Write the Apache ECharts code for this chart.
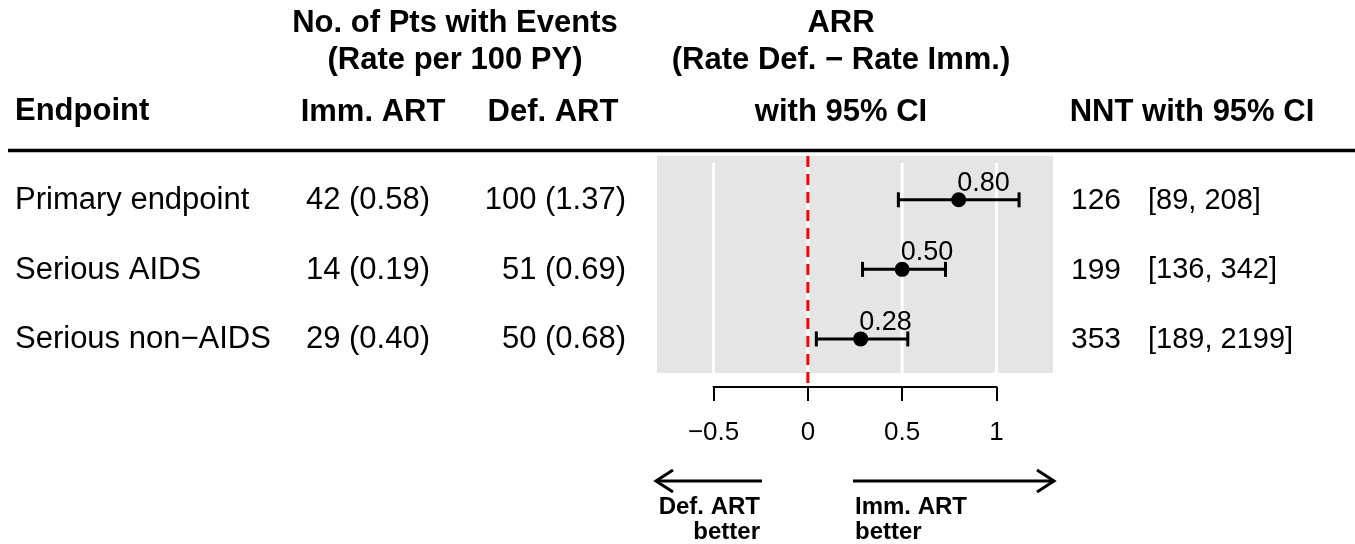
<!DOCTYPE html>
<html><head><meta charset="utf-8">
<script src="https://cdn.jsdelivr.net/npm/echarts@6/dist/echarts.min.js"></script>
<style>html,body{margin:0;padding:0;background:#fff}#c{width:1355px;height:544px}</style>
</head><body><div id="c"></div>
<script>
// ---- data ----
const endpoints = ['Primary endpoint', 'Serious AIDS', 'Serious non\u2212AIDS'];
const rows = [1, 2, 3];
const immEvents = [42, 14, 29];
const immRates = [0.58, 0.19, 0.40];
const defEvents = [100, 51, 50];
const defRates = [1.37, 0.69, 0.68];
const arr = [0.80, 0.50, 0.28];
const arrLow = [0.48, 0.29, 0.045];
const arrHigh = [1.12, 0.73, 0.53];
const nnt = [126, 199, 353];
const nntLow = [89, 136, 189];
const nntHigh = [208, 342, 2199];
const axisTicks = [-0.5, 0, 0.5, 1];

const FONT = '"Liberation Sans", Arial, Helvetica, sans-serif';
const FS = 31;
const chart = echarts.init(document.getElementById('c'), null, {renderer: 'canvas'});

const tableData = rows.map((r, i) => [0, r, i]);

function txt(x, y, text, align, opts) {
  return {
    type: 'text', x: x, y: y,
    style: Object.assign({
      text: text, fontFamily: FONT, fontSize: FS, fill: '#000',
      align: align, verticalAlign: 'middle'
    }, opts || {})
  };
}

const option = {
  animation: false,
  backgroundColor: '#fff',
  grid: [
    {left: 657, top: 156, width: 396, height: 217, show: true, backgroundColor: '#e5e5e5', borderWidth: 0},
    {left: 713.57, top: 386, width: 282.86, height: 1, show: false}
  ],
  xAxis: [
    {gridIndex: 0, type: 'value', min: -0.8, max: 1.3, show: false},
    {gridIndex: 1, type: 'value', min: -0.5, max: 1, interval: 0.5,
      axisLine: {show: true, lineStyle: {color: '#000', width: 2}},
      axisTick: {show: true, length: 14, lineStyle: {color: '#000', width: 2}},
      splitLine: {show: false},
      axisLabel: {margin: 33, fontSize: 26, fontFamily: FONT, color: '#000',
        formatter: v => String(v).replace('-', '\u2212')}
    }
  ],
  yAxis: [
    {gridIndex: 0, type: 'value', min: 0.37, max: 3.49, inverse: true, show: false},
    {gridIndex: 1, type: 'value', min: 0, max: 1, show: false}
  ],
  series: [
    { // white grid lines
      type: 'custom', xAxisIndex: 0, yAxisIndex: 0, clip: false, silent: true, z: 1,
      data: axisTicks.map(v => [v]),
      renderItem: (p, api) => {
        const cs = p.coordSys;
        const x = api.coord([api.value(0), 1])[0];
        return {type: 'line', shape: {x1: x, y1: cs.y + 7, x2: x, y2: cs.y + cs.height},
          style: {stroke: '#ffffff', lineWidth: 3}};
      }
    },
    { // red dashed reference line at 0
      type: 'custom', xAxisIndex: 0, yAxisIndex: 0, clip: false, silent: true, z: 3,
      data: [[0]],
      renderItem: (p, api) => {
        const cs = p.coordSys;
        const x = api.coord([api.value(0), 1])[0];
        return {type: 'line', shape: {x1: x, y1: cs.y, x2: x, y2: cs.y + cs.height + 10},
          style: {stroke: '#ff0000', lineWidth: 3, lineDash: [11, 7]}};
      }
    },
    { // CI error bars
      type: 'custom', xAxisIndex: 0, yAxisIndex: 0, clip: false, silent: true, z: 4,
      data: rows.map((r, i) => [arrLow[i], arrHigh[i], r]),
      renderItem: (p, api) => {
        const a = api.coord([api.value(0), api.value(2)]);
        const b = api.coord([api.value(1), api.value(2)]);
        const st = {stroke: '#000', lineWidth: 3};
        return {type: 'group', children: [
          {type: 'line', shape: {x1: a[0], y1: a[1], x2: b[0], y2: b[1]}, style: st},
          {type: 'line', shape: {x1: a[0], y1: a[1] - 7.5, x2: a[0], y2: a[1] + 7.5}, style: st},
          {type: 'line', shape: {x1: b[0], y1: b[1] - 7.5, x2: b[0], y2: b[1] + 7.5}, style: st}
        ]};
      }
    },
    { // point estimates
      type: 'scatter', xAxisIndex: 0, yAxisIndex: 0, z: 5, silent: true,
      symbol: 'circle', symbolSize: 15,
      itemStyle: {color: '#000', opacity: 1},
      data: rows.map((r, i) => [arr[i], r]),
      label: {show: true, position: [6, -9], align: 'left', verticalAlign: 'middle',
        fontFamily: FONT, fontSize: 27, color: '#000',
        formatter: p => p.value[0].toFixed(2)}
    },
    { // table text columns
      type: 'custom', xAxisIndex: 0, yAxisIndex: 0, clip: false, silent: true, z: 6,
      data: tableData,
      renderItem: (p, api) => {
        const i = api.value(2);
        const y = api.coord([0, api.value(1)])[1] + 1;
        return {type: 'group', children: [
          txt(15, y, endpoints[i], 'left'),
          txt(430, y, immEvents[i] + ' (' + immRates[i].toFixed(2) + ')', 'right'),
          txt(626, y, defEvents[i] + ' (' + defRates[i].toFixed(2) + ')', 'right'),
          txt(1071, y, String(nnt[i]), 'left', {fontSize: 30}),
          txt(1148, y, '[' + nntLow[i] + ', ' + nntHigh[i] + ']', 'left', {fontSize: 29})
        ]};
      }
    }
  ],
  graphic: [
    {type: 'line', shape: {x1: 8, y1: 150.5, x2: 1355, y2: 150.5}, style: {stroke: '#000', lineWidth: 3.5}},
    txt(455, 23, 'No. of Pts with Events', 'center', {fontWeight: 'bold'}),
    txt(455, 60, '(Rate per 100 PY)', 'center', {fontWeight: 'bold'}),
    txt(841, 23, 'ARR', 'center', {fontWeight: 'bold'}),
    txt(841, 60, '(Rate Def. \u2212 Rate Imm.)', 'center', {fontWeight: 'bold'}),
    txt(15, 111, 'Endpoint', 'left', {fontWeight: 'bold'}),
    txt(373, 112, 'Imm. ART', 'center', {fontWeight: 'bold'}),
    txt(553, 112, 'Def. ART', 'center', {fontWeight: 'bold'}),
    txt(841, 112, 'with 95% CI', 'center', {fontWeight: 'bold'}),
    txt(1192, 112, 'NNT with 95% CI', 'center', {fontWeight: 'bold'}),
    // direction arrows
    {type: 'polyline', shape: {points: [[762, 481], [656, 481]]}, style: {stroke: '#000', lineWidth: 3, fill: null}},
    {type: 'polyline', shape: {points: [[673, 470], [656, 481], [673, 492]]}, style: {stroke: '#000', lineWidth: 3, fill: null}},
    {type: 'polyline', shape: {points: [[853, 481], [1054, 481]]}, style: {stroke: '#000', lineWidth: 3, fill: null}},
    {type: 'polyline', shape: {points: [[1037, 470], [1054, 481], [1037, 492]]}, style: {stroke: '#000', lineWidth: 3, fill: null}},
    txt(760, 507, 'Def. ART', 'right', {fontWeight: 'bold', fontSize: 24}),
    txt(760, 532, 'better', 'right', {fontWeight: 'bold', fontSize: 24}),
    txt(855, 507, 'Imm. ART', 'left', {fontWeight: 'bold', fontSize: 24}),
    txt(855, 532, 'better', 'left', {fontWeight: 'bold', fontSize: 24})
  ]
};
chart.setOption(option);
</script>
</body></html>
